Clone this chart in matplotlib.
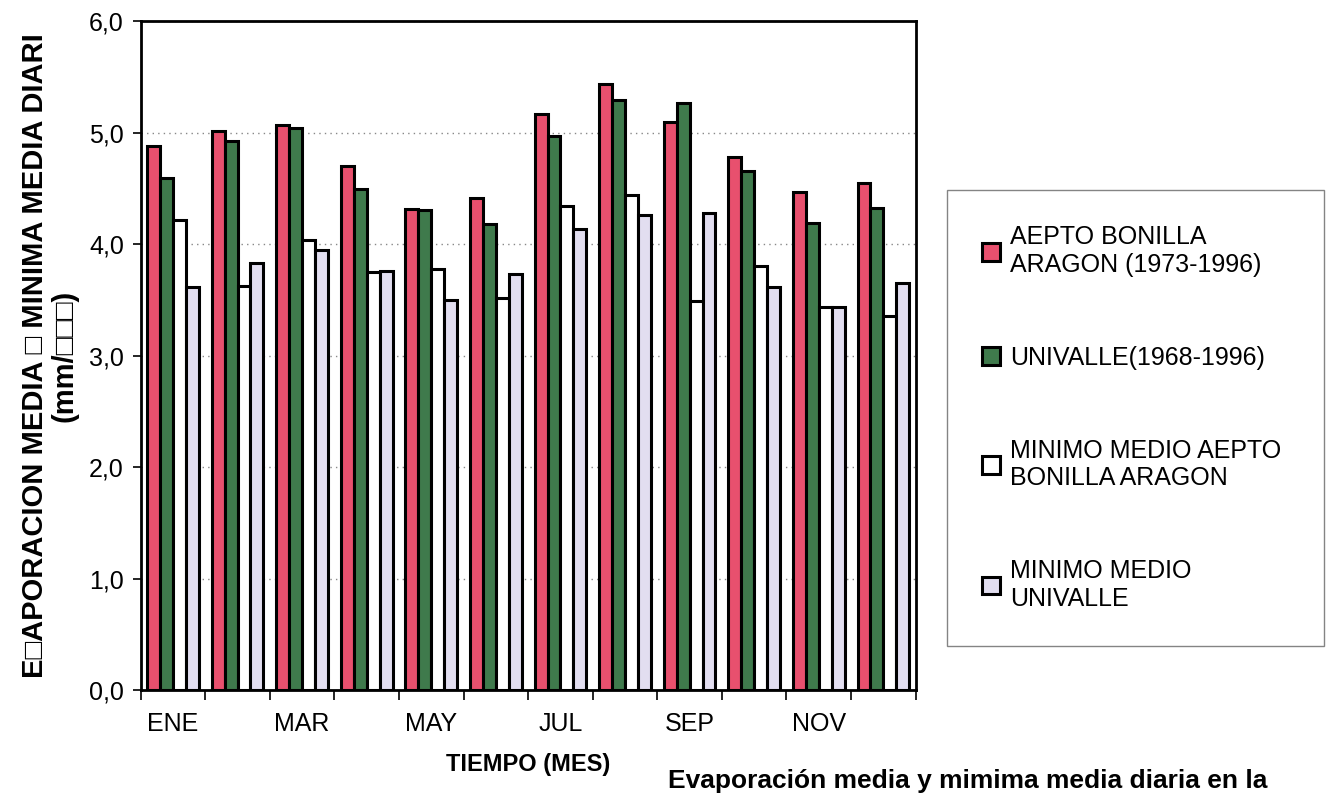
import numpy as np
import matplotlib
matplotlib.use("Agg")
import matplotlib.pyplot as plt

plt.rcParams['font.family'] = ['Liberation Sans', 'DejaVu Sans']

# data
months = ["ENE", "FEB", "MAR", "ABR", "MAY", "JUN",
          "JUL", "AGO", "SEP", "OCT", "NOV", "DIC"]
tick_labels = ["ENE", "", "MAR", "", "MAY", "", "JUL", "", "SEP", "", "NOV", ""]
aepto = [4.88, 5.02, 5.07, 4.70, 4.32, 4.42, 5.17, 5.44, 5.10, 4.78, 4.47, 4.55]
univalle = [4.60, 4.93, 5.04, 4.50, 4.31, 4.18, 4.97, 5.30, 5.27, 4.66, 4.19, 4.33]
min_aepto = [4.22, 3.63, 4.04, 3.75, 3.78, 3.52, 4.34, 4.44, 3.49, 3.81, 3.44, 3.36]
min_univalle = [3.62, 3.83, 3.95, 3.76, 3.50, 3.73, 4.14, 4.26, 4.28, 3.62, 3.44, 3.65]

labels = ["AEPTO BONILLA\nARAGON (1973-1996)",
          "UNIVALLE(1968-1996)",
          "MINIMO MEDIO AEPTO\nBONILLA ARAGON",
          "MINIMO MEDIO\nUNIVALLE"]
colors = ["#e8506e", "#3f7a4c", "#ffffff", "#e2def0"]

fig = plt.figure(figsize=(13.27, 7.96), dpi=100)
ax = fig.add_axes([0.106, 0.133, 0.584, 0.840])

x = np.arange(len(months))
w = 0.2
series = [aepto, univalle, min_aepto, min_univalle]
handles = []
for i, (vals, c) in enumerate(zip(series, colors)):
    b = ax.bar(x + (i - 1.5) * w, vals, w, color=c, edgecolor="black",
               linewidth=2.2, zorder=3)
    handles.append(b)

ax.set_ylim(0, 6)
ax.set_xlim(-0.5, len(months) - 0.5)
ax.set_yticks(np.arange(0, 7, 1))
ax.set_yticklabels([f"{v:.1f}".replace(".", ",") for v in range(0, 7)], fontsize=18)
ax.yaxis.grid(True, linestyle=(0, (1, 3)), color="#888888", linewidth=1, zorder=0)

# ticks between month groups, labels centered under groups
ax.set_xticks(np.arange(-0.5, len(months), 1))
ax.set_xticklabels([])
ax.set_xticks(x, minor=True)
ax.set_xticklabels(tick_labels, minor=True, fontsize=18)
ax.tick_params(axis="x", which="minor", length=0, pad=16)
ax.tick_params(axis="x", which="major", length=7, width=1.2)
ax.tick_params(axis="y", length=6, width=1.2, pad=6)

for s in ax.spines.values():
    s.set_linewidth(2)

ax.set_xlabel("TIEMPO (MES)", fontsize=17, fontweight="bold", labelpad=12)
ax.set_ylabel("E\u25a1APORACION MEDIA \u25a1 MINIMA MEDIA DIARI\n(mm/\u25a1\u25a1\u25a1)",
              fontsize=21, fontweight="bold", labelpad=8, linespacing=1.05)

leg = fig.legend(handles, labels, loc="upper left", mode="expand",
                 bbox_to_anchor=(0.714, 0.19, 0.284, 0.571), fontsize=18,
                 labelspacing=2.75, handlelength=0.7, handleheight=0.7,
                 handletextpad=0.4, borderpad=1.4, borderaxespad=0,
                 frameon=True, fancybox=False, edgecolor="#666666")
leg.get_frame().set_linewidth(1)

# caption, partly visible at the lower edge of the scan
fig.text(0.955, 0.004, "Evaporación media y mimima media diaria en la",
         fontsize=19, fontweight="bold", ha="right", va="bottom")

fig.savefig("out.png", dpi=100)
